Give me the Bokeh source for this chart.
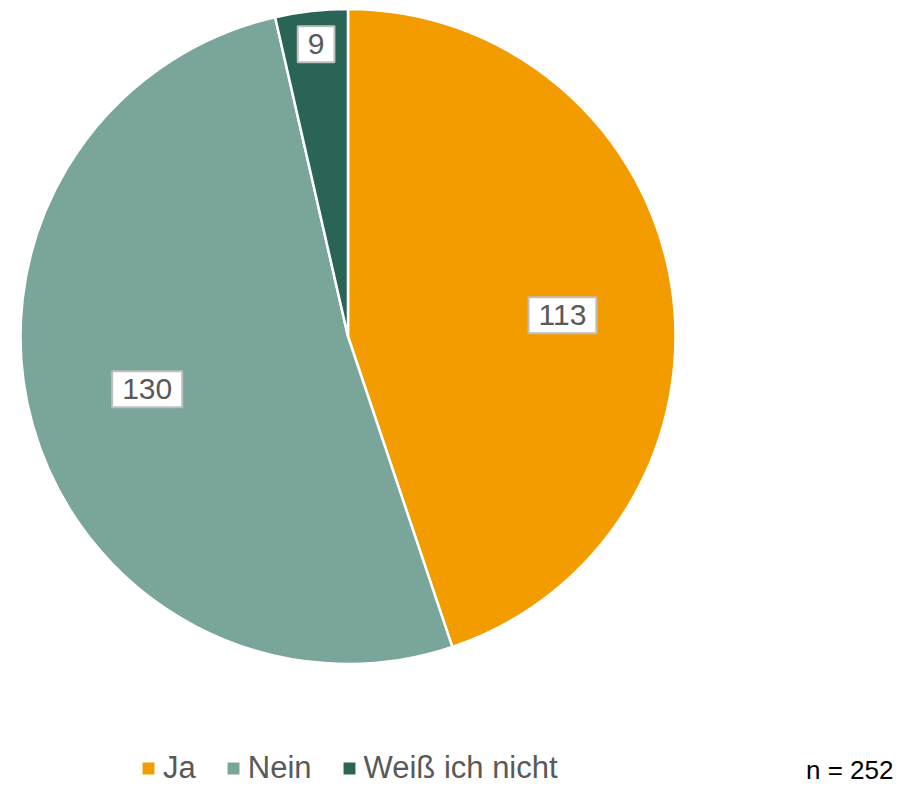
import math
from bokeh.plotting import figure
from bokeh.models import ColumnDataSource, Legend, LegendItem, Range1d, Label
from bokeh.core.properties import value
from bokeh.embed import file_html
from bokeh.resources import INLINE

categories = ["Ja", "Nein", "Weiß ich nicht"]
counts = [113, 130, 9]
colors = ["#F39C00", "#79A59A", "#2A6456"]
label_radius_frac = [0.658, 0.634, 0.898]
label_angle_offset_deg = [-3.6, -1.0, -0.2]
n_label = "n = 252"

FONT = "Liberation Sans"
W, H = 900, 784
cx, cy, R = 347.5, 448.0, 327.5

total = sum(counts)
starts, ends, lx, ly = [], [], [], []
a = math.pi / 2
for c, f, off in zip(counts, label_radius_frac, label_angle_offset_deg):
    s = a
    e = a - 2 * math.pi * c / total
    m = (s + e) / 2 + math.radians(off)
    starts.append(s)
    ends.append(e)
    lx.append(cx + f * R * math.cos(m))
    ly.append(cy + f * R * math.sin(m))
    a = e

src = ColumnDataSource(dict(cat=categories, val=counts, color=colors,
                            start=starts, end=ends,
                            lx=lx, ly=ly, txt=[str(v) for v in counts]))

p = figure(width=W, height=H, output_backend="svg", toolbar_location=None,
           x_range=Range1d(0, W), y_range=Range1d(0, H), min_border=0)
p.axis.visible = False
p.grid.visible = False
p.outline_line_color = None
p.background_fill_color = "white"

wr = p.wedge(x=cx, y=cy, radius=R, start_angle="start", end_angle="end",
             direction="clock", fill_color="color", line_color="white",
             line_width=2.5, source=src)

p.text(x="lx", y="ly", text="txt", source=src,
       text_align="center", text_baseline="middle",
       text_font=value(FONT), text_font_size="30px", text_color="#595959",
       background_fill_color="white", border_line_color="#BFBFBF",
       border_line_width=2, padding=dict(x=10, y=8))

items = [LegendItem(label=cat, renderers=[wr], index=i)
         for i, cat in enumerate(categories)]

legend = Legend(items=items, orientation="horizontal", location=(139, -2),
                border_line_alpha=0, background_fill_alpha=0,
                label_text_font=FONT, label_text_font_size="31px",
                label_text_color="#595959", glyph_width=18, glyph_height=18,
                label_standoff=6, spacing=28, padding=0, margin=0)
p.add_layout(legend, "center")

p.add_layout(Label(x=893, y=0, x_units="screen", y_units="screen", text=n_label,
                   text_align="right", text_baseline="bottom",
                   text_font=FONT, text_font_size="26px", text_color="#000000"))

open("out.html", "w").write(file_html(p, INLINE))
